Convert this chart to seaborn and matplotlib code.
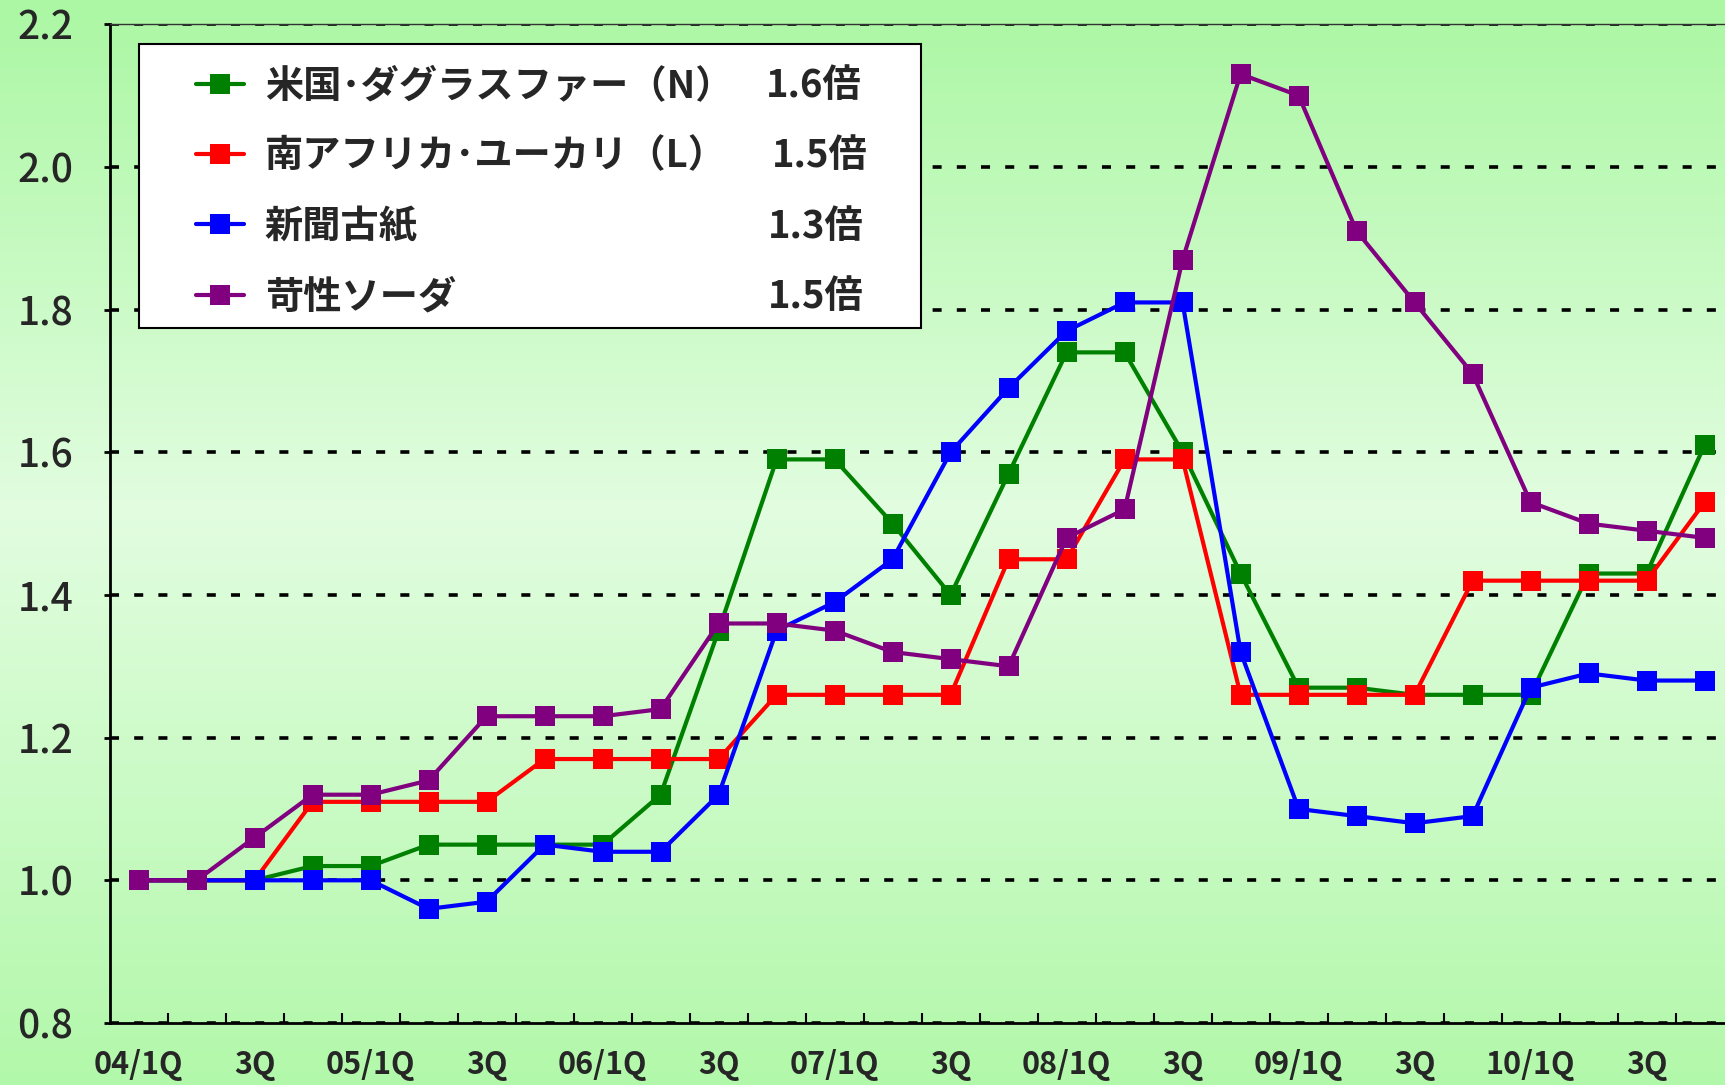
import numpy as np
import pandas as pd
import seaborn as sns
import matplotlib.pyplot as plt
from matplotlib.colors import LinearSegmentedColormap
from matplotlib.patches import Rectangle

# quarters 04/1Q .. 10/4Q
years = ["04", "05", "06", "07", "08", "09", "10"]
quarter_labels = [f"{y}/1Q" if q == 1 else f"{q}Q" for y in years for q in range(1, 5)]

series_names = ["米国･ダグラスファー（N）", "南アフリカ･ユーカリ（L）", "新聞古紙", "苛性ソーダ"]
series_colors = ["#008000", "#ff0000", "#0000ff", "#800080"]
multipliers = ["1.6倍", "1.5倍", "1.3倍", "1.5倍"]

douglas_fir = [1.00, 1.00, 1.00, 1.02, 1.02, 1.05, 1.05, 1.05, 1.05, 1.12,
               1.35, 1.59, 1.59, 1.50, 1.40, 1.57, 1.74, 1.74, 1.60, 1.43,
               1.27, 1.27, 1.26, 1.26, 1.26, 1.43, 1.43, 1.61]
eucalyptus = [1.00, 1.00, 1.00, 1.11, 1.11, 1.11, 1.11, 1.17, 1.17, 1.17,
              1.17, 1.26, 1.26, 1.26, 1.26, 1.45, 1.45, 1.59, 1.59, 1.26,
              1.26, 1.26, 1.26, 1.42, 1.42, 1.42, 1.42, 1.53]
old_newspaper = [1.00, 1.00, 1.00, 1.00, 1.00, 0.96, 0.97, 1.05, 1.04, 1.04,
                 1.12, 1.35, 1.39, 1.45, 1.60, 1.69, 1.77, 1.81, 1.81, 1.32,
                 1.10, 1.09, 1.08, 1.09, 1.27, 1.29, 1.28, 1.28]
caustic_soda = [1.00, 1.00, 1.06, 1.12, 1.12, 1.14, 1.23, 1.23, 1.23, 1.24,
                1.36, 1.36, 1.35, 1.32, 1.31, 1.30, 1.48, 1.52, 1.87, 2.13,
                2.10, 1.91, 1.81, 1.71, 1.53, 1.50, 1.49, 1.48]

y_ticks = [0.8, 1.0, 1.2, 1.4, 1.6, 1.8, 2.0, 2.2]

sns.set_theme(style="white")
plt.rcParams["font.family"] = ["Noto Sans CJK JP", "DejaVu Sans"]

rows = []
for name, vals in zip(series_names, [douglas_fir, eucalyptus, old_newspaper, caustic_soda]):
    for i, v in enumerate(vals):
        rows.append({"idx": i, "value": v, "series": name})
df = pd.DataFrame(rows)

fig = plt.figure(figsize=(17.25, 10.85), dpi=100)

# green background gradient (light in the middle)
bg = fig.add_axes([0, 0, 1, 1], zorder=-10)
cmap = LinearSegmentedColormap.from_list(
    "bg", [(0, "#abf7a3"), (0.47, "#e2fde0"), (1, "#b2f8aa")])
bg.imshow(np.linspace(0, 1, 256).reshape(-1, 1), aspect="auto", cmap=cmap,
          extent=[0, 1, 0, 1], origin="upper")
bg.axis("off")

ax = fig.add_axes([109.6 / 1725, 62 / 1085, 1624 / 1725, 998.8 / 1085])
ax.set_facecolor("none")

sns.lineplot(data=df, x="idx", y="value", hue="series", hue_order=series_names,
             palette=series_colors, marker="s", markersize=14, markeredgewidth=0,
             linewidth=3, ax=ax, legend=False)

ax.set_xlim(-0.5, len(quarter_labels) - 0.5)
ax.set_ylim(0.8, 2.2)
ax.set_xlabel("")
ax.set_ylabel("")

ax.set_xticks(range(0, len(quarter_labels), 2))
ax.set_xticklabels(quarter_labels[::2], fontsize=22, fontweight="bold")
ax.set_xticks(np.arange(0.5, len(quarter_labels) - 1, 1), minor=True)
ax.tick_params(axis="x", which="major", length=0, pad=19)
ax.tick_params(axis="x", which="minor", direction="in", length=7, width=1.5,
               color="black", bottom=True)

ax.set_yticks(y_ticks)
ax.set_yticklabels([f"{v:.1f}" for v in y_ticks], fontsize=28, fontweight="medium")
ax.tick_params(axis="y", direction="out", length=4, width=2, pad=22, color="black",
               left=True)

ax.set_axisbelow(True)
ax.yaxis.grid(True, color="black", linewidth=2.6, linestyle=(0, (2.5, 4.2)))
ax.xaxis.grid(False)

for side in ["left", "bottom"]:
    ax.spines[side].set_color("black")
    ax.spines[side].set_linewidth(2)
ax.spines["top"].set_color("#333333")
ax.spines["top"].set_linewidth(1)
ax.spines["right"].set_visible(False)

# legend box
ax.add_patch(Rectangle((0.0179, 0.696), 0.4816, 0.284, transform=ax.transAxes,
                       facecolor="white", edgecolor="black", linewidth=1.5,
                       zorder=4.9, clip_on=False))
leg = ax.legend(handles=ax.lines[:4], labels=series_names, loc="upper left",
                bbox_to_anchor=(0.0532, 0.958), frameon=False, borderpad=0,
                borderaxespad=0, handlelength=1.25, handletextpad=0.55,
                labelspacing=0.82, prop={"size": 27.5, "weight": "bold"})
leg.set_zorder(5)

fig.canvas.draw()
inv = ax.transAxes.inverted()
mult_x = [0.4633, 0.4669, 0.4645, 0.4645]
for txt, m, mx in zip(leg.get_texts(), multipliers, mult_x):
    bb = txt.get_window_extent()
    yc = inv.transform((0, (bb.y0 + bb.y1) / 2))[1]
    ax.text(mx, yc, m, transform=ax.transAxes, ha="right", va="center",
            fontsize=27.5, fontweight="bold", zorder=6)

fig.savefig("out.png", dpi=100)
